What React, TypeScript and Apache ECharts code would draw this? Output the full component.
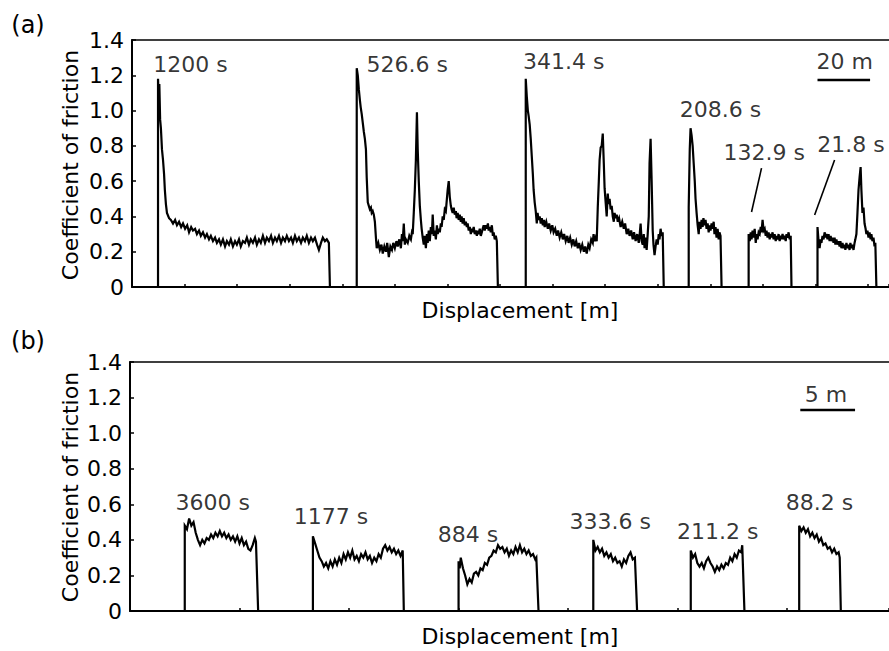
import React, { useEffect, useRef } from 'react';
import * as echarts from 'echarts';

const FONT = 'DejaVu Sans';
const INK = '#000000';

// ---------- Panel (a): displacement [m] vs coefficient of friction ----------
const A_X_MAX = 288;
const A_X_STEP = 20;

const aTrace1200: number[][] = [
  [9.9, 0], [9.9, 1.18], [10.2, 1.05], [10.4, 1.15], [10.7, 0.95], [11.0, 0.9], [11.4, 0.78], [11.8, 0.72],
  [12.2, 0.64], [12.5, 0.55], [12.9, 0.47], [13.3, 0.42], [14.1, 0.39], [14.8, 0.38], [15.6, 0.36], [16.4, 0.38],
  [17.1, 0.35], [17.9, 0.37], [18.7, 0.34], [19.4, 0.36], [20.2, 0.33], [21.0, 0.35], [21.7, 0.31], [22.5, 0.34],
  [23.2, 0.32], [24.0, 0.33], [24.7, 0.3], [25.5, 0.32], [26.2, 0.29], [27.0, 0.31], [27.8, 0.28], [28.5, 0.3],
  [29.3, 0.27], [30.0, 0.29], [30.8, 0.26], [31.6, 0.28], [32.3, 0.25], [33.1, 0.27], [33.8, 0.24], [34.6, 0.27],
  [35.4, 0.23], [36.1, 0.26], [36.9, 0.24], [37.6, 0.27], [38.4, 0.23], [39.2, 0.26], [39.9, 0.24], [40.7, 0.27],
  [41.4, 0.23], [42.2, 0.26], [43.0, 0.25], [43.7, 0.28], [44.5, 0.24], [45.2, 0.27], [46.0, 0.25], [46.8, 0.28],
  [47.5, 0.24], [48.3, 0.27], [49.0, 0.25], [49.8, 0.29], [50.6, 0.25], [51.3, 0.28], [52.1, 0.26], [52.9, 0.29],
  [53.6, 0.25], [54.4, 0.28], [55.1, 0.26], [55.9, 0.29], [56.7, 0.25], [57.4, 0.28], [58.2, 0.26], [58.9, 0.29],
  [59.7, 0.26], [60.5, 0.28], [61.2, 0.25], [62.0, 0.29], [62.7, 0.26], [63.5, 0.28], [64.3, 0.25], [65.0, 0.28],
  [65.8, 0.26], [66.5, 0.29], [67.3, 0.25], [68.1, 0.28], [68.8, 0.26], [69.6, 0.28], [70.4, 0.24], [71.1, 0.21],
  [71.9, 0.25], [72.6, 0.28], [73.4, 0.26], [74.1, 0.27], [74.9, 0.25], [75.3, 0],
];

const aTrace526: number[][] = [
  [85.5, 0], [85.5, 1.24], [85.9, 1.2], [86.3, 1.12], [86.7, 1.06], [87.0, 1.02], [87.4, 0.98], [87.8, 0.93],
  [88.2, 0.88], [88.6, 0.84], [89.0, 0.78], [89.3, 0.62], [89.7, 0.48], [90.1, 0.46], [90.5, 0.44], [90.9, 0.45],
  [91.2, 0.42], [91.6, 0.43], [92.0, 0.41], [92.4, 0.37], [92.8, 0.28], [93.1, 0.22], [93.7, 0.25], [94.3, 0.21],
  [94.9, 0.24], [95.4, 0.19], [96.0, 0.23], [96.6, 0.2], [97.1, 0.25], [97.7, 0.17], [98.3, 0.23], [98.9, 0.21],
  [99.4, 0.25], [100.0, 0.22], [100.6, 0.26], [101.1, 0.23], [101.7, 0.27], [102.3, 0.22], [102.7, 0.3], [103.0, 0.26],
  [103.4, 0.36], [103.8, 0.24], [104.2, 0.27], [104.9, 0.25], [105.5, 0.29], [106.1, 0.27], [106.5, 0.31], [106.8, 0.3],
  [107.2, 0.42], [107.6, 0.55], [108.0, 0.72], [108.4, 0.99], [108.7, 0.78], [109.1, 0.6], [109.5, 0.46], [109.9, 0.38],
  [110.2, 0.33], [110.6, 0.28], [111.0, 0.24], [111.4, 0.29], [111.8, 0.22], [112.2, 0.3], [112.5, 0.25], [112.9, 0.32],
  [113.3, 0.26], [113.7, 0.34], [114.1, 0.3], [114.4, 0.41], [114.8, 0.29], [115.2, 0.32], [115.6, 0.27], [116.0, 0.35],
  [116.3, 0.3], [116.7, 0.33], [117.1, 0.31], [117.5, 0.36], [117.8, 0.34], [118.2, 0.4], [118.6, 0.38], [119.0, 0.44],
  [119.4, 0.43], [119.8, 0.5], [120.1, 0.55], [120.5, 0.6], [120.9, 0.51], [121.3, 0.46], [121.6, 0.44], [122.0, 0.42],
  [122.4, 0.45], [122.8, 0.41], [123.2, 0.43], [123.5, 0.39], [123.9, 0.42], [124.3, 0.38], [124.7, 0.41], [125.1, 0.37],
  [125.4, 0.4], [125.8, 0.36], [126.2, 0.39], [126.6, 0.35], [127.0, 0.37], [127.4, 0.34], [127.7, 0.36], [128.1, 0.32],
  [128.5, 0.34], [128.9, 0.3], [129.3, 0.33], [129.6, 0.31], [130.0, 0.34], [130.4, 0.3], [130.8, 0.32], [131.2, 0.29],
  [131.5, 0.32], [131.9, 0.3], [132.3, 0.33], [132.7, 0.29], [133.1, 0.31], [133.4, 0.33], [133.8, 0.35], [134.2, 0.32],
  [134.6, 0.35], [135.0, 0.33], [135.4, 0.36], [135.7, 0.32], [136.1, 0.34], [136.5, 0.31], [136.9, 0.35], [137.3, 0.29],
  [137.6, 0.31], [138.0, 0.27], [138.4, 0.29], [138.8, 0.26], [139.2, 0],
];

const aTrace341: number[][] = [
  [149.8, 0], [149.8, 1.18], [150.2, 1.08], [150.6, 1.0], [150.9, 0.97], [151.3, 0.92], [151.7, 0.84], [152.1, 0.74],
  [152.5, 0.64], [152.8, 0.55], [153.2, 0.48], [153.6, 0.43], [154.0, 0.36], [154.3, 0.42], [154.7, 0.38], [155.1, 0.4],
  [155.5, 0.36], [155.9, 0.39], [156.3, 0.35], [156.7, 0.38], [157.0, 0.34], [157.6, 0.37], [158.2, 0.33], [158.7, 0.36],
  [159.3, 0.32], [159.9, 0.35], [160.4, 0.31], [161.0, 0.33], [161.6, 0.29], [162.1, 0.32], [162.7, 0.28], [163.3, 0.31],
  [163.9, 0.27], [164.4, 0.3], [165.0, 0.26], [165.6, 0.29], [166.1, 0.25], [166.7, 0.28], [167.3, 0.24], [167.9, 0.27],
  [168.4, 0.23], [169.0, 0.26], [169.6, 0.22], [170.1, 0.25], [170.7, 0.21], [171.3, 0.24], [171.9, 0.2], [172.4, 0.23],
  [173.0, 0.19], [173.6, 0.24], [174.1, 0.22], [174.7, 0.27], [175.3, 0.25], [175.6, 0.3], [176.0, 0.26], [176.4, 0.28],
  [176.8, 0.26], [177.2, 0.45], [177.6, 0.6], [177.9, 0.72], [178.3, 0.79], [178.7, 0.8], [179.1, 0.87], [179.5, 0.7],
  [179.8, 0.56], [180.2, 0.48], [180.6, 0.4], [181.0, 0.53], [181.3, 0.47], [181.7, 0.5], [182.1, 0.44], [182.5, 0.46],
  [182.9, 0.4], [183.3, 0.37], [183.6, 0.42], [184.0, 0.39], [184.4, 0.41], [184.8, 0.37], [185.3, 0.39], [185.9, 0.34],
  [186.5, 0.37], [187.1, 0.33], [187.6, 0.36], [188.2, 0.3], [188.8, 0.33], [189.3, 0.29], [189.9, 0.32], [190.5, 0.27],
  [191.0, 0.31], [191.6, 0.26], [192.2, 0.3], [192.8, 0.25], [193.1, 0.29], [193.5, 0.36], [193.9, 0.26], [194.3, 0.24],
  [194.7, 0.3], [195.0, 0.22], [195.4, 0.28], [195.8, 0.21], [196.2, 0.3], [196.6, 0.4], [196.9, 0.7], [197.3, 0.84],
  [197.7, 0.6], [198.1, 0.32], [198.4, 0.24], [198.8, 0.18], [199.2, 0.23], [199.6, 0.27], [200.0, 0.24], [200.4, 0.3],
  [200.7, 0.27], [201.1, 0.33], [201.5, 0.29], [201.9, 0.31], [202.3, 0],
];

const aTrace208: number[][] = [
  [211.8, 0], [211.8, 0.45], [212.2, 0.78], [212.5, 0.9], [212.9, 0.86], [213.3, 0.8], [213.7, 0.7], [214.1, 0.6],
  [214.4, 0.5], [214.8, 0.42], [215.2, 0.35], [215.6, 0.3], [215.9, 0.37], [216.3, 0.33], [216.7, 0.38], [217.1, 0.34],
  [217.4, 0.39], [217.8, 0.35], [218.2, 0.38], [218.6, 0.33], [219.0, 0.36], [219.4, 0.31], [219.7, 0.35], [220.1, 0.32],
  [220.5, 0.36], [220.9, 0.33], [221.3, 0.37], [221.6, 0.3], [222.0, 0.34], [222.4, 0.28], [222.8, 0.33], [223.2, 0.27],
  [223.5, 0.31], [223.9, 0.29], [224.3, 0],
];

const aTrace132: number[][] = [
  [234.6, 0], [234.6, 0.3], [235.0, 0.26], [235.4, 0.31], [235.7, 0.27], [236.1, 0.32], [236.5, 0.28], [236.9, 0.33],
  [237.3, 0.25], [237.6, 0.3], [238.0, 0.27], [238.4, 0.31], [238.8, 0.3], [239.2, 0.34], [239.5, 0.31], [239.9, 0.38],
  [240.3, 0.32], [240.7, 0.33], [241.1, 0.29], [241.4, 0.32], [241.8, 0.28], [242.2, 0.31], [242.6, 0.27], [243.0, 0.3],
  [243.3, 0.28], [243.7, 0.31], [244.1, 0.27], [244.5, 0.3], [244.9, 0.26], [245.2, 0.29], [245.6, 0.27], [246.0, 0.3],
  [246.4, 0.26], [246.8, 0.29], [247.1, 0.27], [247.5, 0.3], [247.9, 0.27], [248.3, 0.29], [248.7, 0.26], [249.0, 0.3],
  [249.4, 0.28], [249.8, 0.31], [250.2, 0.27], [250.6, 0.29], [250.9, 0],
];

const aTrace21: number[][] = [
  [260.8, 0], [260.8, 0.34], [261.2, 0.26], [261.6, 0.22], [262.0, 0.27], [262.3, 0.25], [262.7, 0.29], [263.1, 0.27],
  [263.5, 0.31], [263.9, 0.28], [264.2, 0.3], [264.6, 0.27], [265.0, 0.3], [265.4, 0.26], [265.8, 0.29], [266.1, 0.26],
  [266.5, 0.28], [266.9, 0.25], [267.3, 0.28], [267.6, 0.24], [268.0, 0.27], [268.4, 0.24], [268.8, 0.26], [269.2, 0.23],
  [269.5, 0.26], [269.9, 0.22], [270.3, 0.25], [270.7, 0.22], [271.1, 0.24], [271.4, 0.21], [271.8, 0.25], [272.2, 0.22],
  [272.6, 0.24], [273.0, 0.21], [273.3, 0.25], [273.7, 0.22], [274.1, 0.24], [274.5, 0.21], [274.9, 0.25], [275.2, 0.27],
  [275.6, 0.3], [276.0, 0.42], [276.4, 0.55], [276.8, 0.62], [277.2, 0.68], [277.5, 0.55], [277.9, 0.42], [278.3, 0.45],
  [278.7, 0.36], [279.1, 0.33], [279.4, 0.3], [279.8, 0.32], [280.2, 0.28], [280.6, 0.31], [281.0, 0.27], [281.3, 0.3],
  [281.7, 0.26], [282.1, 0.28], [282.5, 0.23], [282.8, 0.25], [283.2, 0],
];

const aLabels = [
  { text: '1200 s', x: 22.4, y: 1.258 },
  { text: '526.6 s', x: 104.9, y: 1.258 },
  { text: '341.4 s', x: 164.4, y: 1.275 },
  { text: '208.6 s', x: 224.1, y: 1.003 },
  { text: '132.9 s', x: 240.7, y: 0.759 },
  { text: '21.8 s', x: 273.7, y: 0.805 },
  { text: '20 m', x: 271.3, y: 1.275 },
];
const aLeaders: number[][][] = [
  [[239.5, 0.674], [235.7, 0.425]],
  [[267.3, 0.72], [259.7, 0.408]],
];
const aScaleBar: number[][] = [[260.8, 1.173], [280.8, 1.173]];

// ---------- Panel (b) ----------
const B_X_MAX = 69.3;
const B_X_STEP = 10;

const bTrace3600: number[][] = [
  [5.0, 0], [5.0, 0.48], [5.2, 0.46], [5.4, 0.52], [5.6, 0.48], [5.8, 0.5], [6.0, 0.44], [6.2, 0.4],
  [6.4, 0.37], [6.6, 0.4], [6.8, 0.38], [7.0, 0.41], [7.2, 0.4], [7.4, 0.43], [7.6, 0.41], [7.8, 0.44],
  [8.0, 0.42], [8.2, 0.45], [8.4, 0.42], [8.6, 0.44], [8.8, 0.41], [9.0, 0.43], [9.2, 0.4], [9.4, 0.42],
  [9.6, 0.39], [9.8, 0.42], [10.0, 0.38], [10.2, 0.41], [10.4, 0.37], [10.6, 0.39], [10.8, 0.35], [11.0, 0.34],
  [11.2, 0.37], [11.4, 0.41], [11.5, 0.39], [11.7, 0],
];

const bTrace1177: number[][] = [
  [16.7, 0], [16.7, 0.42], [16.9, 0.38], [17.1, 0.34], [17.3, 0.3], [17.5, 0.28], [17.7, 0.25], [17.9, 0.27],
  [18.1, 0.24], [18.3, 0.28], [18.5, 0.25], [18.7, 0.29], [18.9, 0.26], [19.1, 0.3], [19.3, 0.27], [19.5, 0.32],
  [19.7, 0.29], [19.9, 0.33], [20.1, 0.3], [20.3, 0.34], [20.5, 0.29], [20.7, 0.31], [20.9, 0.28], [21.1, 0.32],
  [21.3, 0.3], [21.5, 0.33], [21.7, 0.29], [21.9, 0.31], [22.1, 0.27], [22.3, 0.3], [22.5, 0.28], [22.7, 0.32],
  [22.9, 0.3], [23.1, 0.35], [23.3, 0.37], [23.5, 0.34], [23.7, 0.36], [23.9, 0.33], [24.1, 0.35], [24.3, 0.32],
  [24.5, 0.34], [24.7, 0.31], [24.9, 0.34], [25.0, 0],
];

const bTrace884: number[][] = [
  [30.0, 0], [30.0, 0.28], [30.1, 0.24], [30.2, 0.3], [30.4, 0.24], [30.6, 0.2], [30.8, 0.15], [31.0, 0.18],
  [31.2, 0.16], [31.4, 0.21], [31.6, 0.22], [31.8, 0.2], [32.0, 0.24], [32.2, 0.23], [32.4, 0.27], [32.6, 0.26],
  [32.8, 0.3], [33.0, 0.31], [33.2, 0.34], [33.4, 0.33], [33.6, 0.37], [33.8, 0.35], [34.0, 0.36], [34.2, 0.33],
  [34.4, 0.35], [34.6, 0.31], [34.8, 0.34], [35.0, 0.32], [35.2, 0.36], [35.4, 0.33], [35.6, 0.37], [35.8, 0.33],
  [36.0, 0.35], [36.2, 0.32], [36.4, 0.34], [36.6, 0.31], [36.8, 0.32], [37.0, 0.29], [37.1, 0.3], [37.3, 0],
];

const bTrace333: number[][] = [
  [42.3, 0], [42.3, 0.4], [42.5, 0.34], [42.7, 0.36], [42.9, 0.33], [43.1, 0.35], [43.3, 0.31], [43.5, 0.33],
  [43.7, 0.3], [43.9, 0.32], [44.1, 0.28], [44.3, 0.3], [44.5, 0.27], [44.7, 0.28], [44.9, 0.25], [45.1, 0.29],
  [45.3, 0.27], [45.5, 0.31], [45.7, 0.33], [45.9, 0.29], [46.1, 0.3], [46.3, 0],
];

const bTrace211: number[][] = [
  [51.2, 0], [51.2, 0.34], [51.4, 0.3], [51.6, 0.32], [51.8, 0.27], [52.0, 0.25], [52.2, 0.27], [52.4, 0.24],
  [52.6, 0.28], [52.8, 0.3], [53.0, 0.27], [53.2, 0.25], [53.4, 0.22], [53.6, 0.25], [53.8, 0.23], [54.0, 0.26],
  [54.2, 0.24], [54.4, 0.27], [54.6, 0.26], [54.8, 0.3], [55.0, 0.28], [55.2, 0.32], [55.4, 0.3], [55.6, 0.34],
  [55.8, 0.33], [55.9, 0.37], [56.1, 0],
];

const bTrace88: number[][] = [
  [61.1, 0], [61.1, 0.48], [61.3, 0.45], [61.5, 0.47], [61.7, 0.44], [61.9, 0.46], [62.1, 0.42], [62.3, 0.44],
  [62.5, 0.41], [62.7, 0.43], [62.9, 0.39], [63.1, 0.41], [63.3, 0.37], [63.5, 0.38], [63.7, 0.35], [63.9, 0.36],
  [64.1, 0.33], [64.3, 0.35], [64.5, 0.32], [64.7, 0.33], [64.8, 0.3], [64.9, 0],
];

const bLabels = [
  { text: '3600 s', x: 7.6, y: 0.607 },
  { text: '1177 s', x: 18.4, y: 0.528 },
  { text: '884 s', x: 30.9, y: 0.427 },
  { text: '333.6 s', x: 43.9, y: 0.5 },
  { text: '211.2 s', x: 53.7, y: 0.444 },
  { text: '88.2 s', x: 63.0, y: 0.607 },
  { text: '5 m', x: 63.6, y: 1.214 },
];
const bScaleBar: number[][] = [[61.2, 1.13], [66.2, 1.13]];

const Y_MIN = 0;
const Y_MAX = 1.4;
const Y_STEP = 0.2;

const aTraces = [aTrace1200, aTrace526, aTrace341, aTrace208, aTrace132, aTrace21];
const bTraces = [bTrace3600, bTrace1177, bTrace884, bTrace333, bTrace211, bTrace88];

function traceSeries(data: number[][], idx: number, width = 2.2) {
  return {
    type: 'line',
    xAxisIndex: idx,
    yAxisIndex: idx,
    data,
    symbol: 'none',
    showSymbol: false,
    silent: true,
    lineStyle: { color: INK, width, join: 'miter' },
    z: 3,
  };
}

function labelSeries(labels: { text: string; x: number; y: number }[], idx: number) {
  return {
    type: 'scatter',
    xAxisIndex: idx,
    yAxisIndex: idx,
    symbolSize: 1,
    silent: true,
    itemStyle: { color: 'rgba(0,0,0,0)' },
    data: labels.map((l) => ({ name: l.text, value: [l.x, l.y] })),
    label: {
      show: true,
      position: [0, 0],
      align: 'center',
      verticalAlign: 'middle',
      formatter: '{b}',
      fontSize: 22,
      fontFamily: FONT,
      color: INK,
      textBorderWidth: 0,
    },
    z: 4,
  };
}

function bottomX(grid: number, max: number, step: number) {
  return {
    gridIndex: grid,
    type: 'value',
    min: 0,
    max,
    interval: step,
    axisLine: { show: true, onZero: false, lineStyle: { color: INK, width: 2 } },
    axisTick: { show: true, inside: true, length: 3, lineStyle: { color: INK, width: 1.5 } },
    axisLabel: { show: false },
    splitLine: { show: false },
  };
}

function topX(grid: number, max: number) {
  return {
    gridIndex: grid,
    type: 'value',
    position: 'top',
    min: 0,
    max,
    axisLine: { show: true, onZero: false, lineStyle: { color: INK, width: 1.6 } },
    axisTick: { show: false },
    axisLabel: { show: false },
    splitLine: { show: false },
  };
}

function yAx(grid: number) {
  return {
    gridIndex: grid,
    type: 'value',
    min: Y_MIN,
    max: Y_MAX,
    interval: Y_STEP,
    axisLine: { show: true, onZero: false, lineStyle: { color: INK, width: 2 } },
    axisTick: { show: true, inside: true, length: 4, lineStyle: { color: INK, width: 1.5 } },
    axisLabel: {
      fontSize: 22,
      fontFamily: FONT,
      color: INK,
      margin: 8,
      formatter: (v: number) => (v === 0 ? '0' : v.toFixed(1)),
    },
    splitLine: { show: false },
  };
}

function textEl(text: string, x: number, y: number, size: number, rotation = 0) {
  return {
    type: 'text',
    x,
    y,
    rotation,
    silent: true,
    style: {
      text,
      fontSize: size,
      fontFamily: FONT,
      fill: INK,
      align: 'center',
      verticalAlign: 'middle',
    },
  };
}

export default function App() {
  const ref = useRef<HTMLDivElement>(null);

  useEffect(() => {
    document.body.style.margin = '0';
    if (!ref.current) return;
    const chart = echarts.init(ref.current, undefined, { renderer: 'svg' });

    const series: any[] = [];
    aTraces.forEach((t) => series.push(traceSeries(t, 0)));
    bTraces.forEach((t) => series.push(traceSeries(t, 1)));
    aLeaders.forEach((l) => series.push(traceSeries(l, 0, 1.6)));
    series.push(traceSeries(aScaleBar, 0, 2.5));
    series.push(traceSeries(bScaleBar, 1, 2.5));
    series.push(labelSeries(aLabels, 0));
    series.push(labelSeries(bLabels, 1));

    chart.setOption({
      animation: false,
      backgroundColor: '#ffffff',
      grid: [
        { left: 132, top: 40, right: 0, height: 247 },
        { left: 130, top: 362, right: 0, height: 249 },
      ],
      xAxis: [
        bottomX(0, A_X_MAX, A_X_STEP),
        bottomX(1, B_X_MAX, B_X_STEP),
        topX(0, A_X_MAX),
        topX(1, B_X_MAX),
      ],
      yAxis: [yAx(0), yAx(1)],
      series,
      graphic: [
        textEl('(a)', 28, 25, 24),
        textEl('(b)', 28, 341, 24),
        textEl('Coefficient of friction', 70, 165, 22, Math.PI / 2),
        textEl('Coefficient of friction', 70, 487, 22, Math.PI / 2),
        textEl('Displacement [m]', 520, 310, 22),
        textEl('Displacement [m]', 520, 636, 22),
      ],
    });

    return () => chart.dispose();
  }, []);

  return <div ref={ref} style={{ width: 889, height: 651 }} />;
}
